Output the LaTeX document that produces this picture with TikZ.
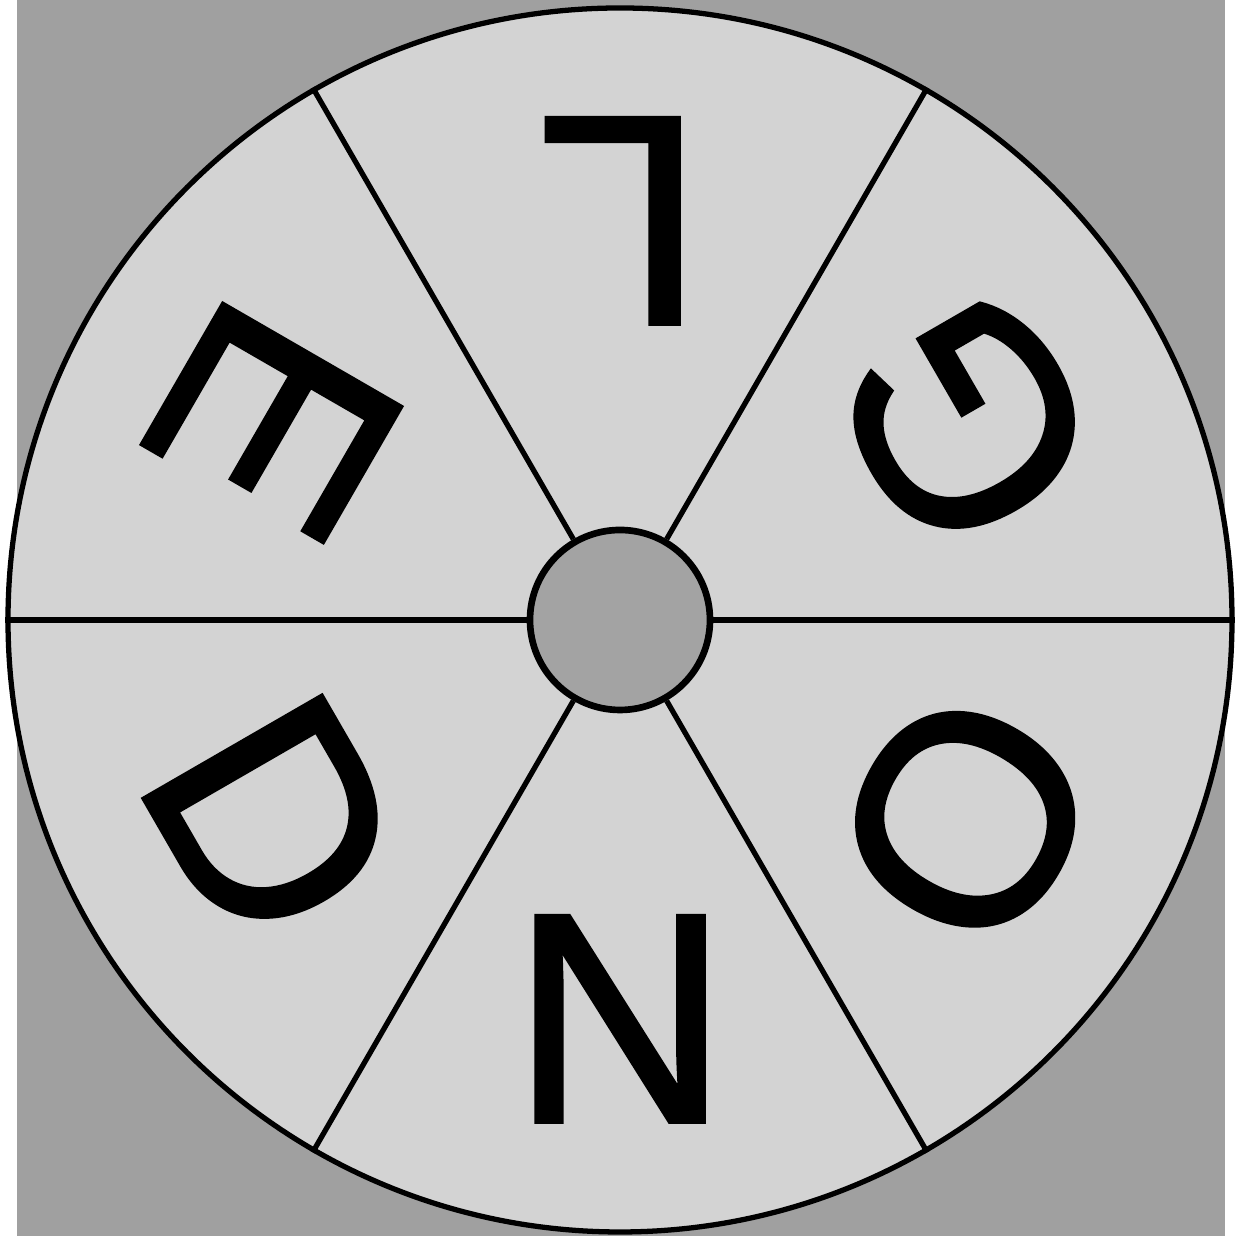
\documentclass[tikz,border=0pt]{standalone}
\usepackage{fontspec}
\setmainfont{Liberation Sans}
\newfontfamily\wheelfont{Liberation Sans}[FakeBold=1.5]
\usetikzlibrary{calc}
\definecolor{spinbg}{RGB}{160,160,160}
\definecolor{spinfill}{RGB}{211,211,211}
\definecolor{hubfill}{RGB}{163,163,163}

\begin{document}
\begin{tikzpicture}[
        wheel/.style={draw, circle, line width=1.5pt, fill=spinfill,
                      minimum size=12.24cm, inner sep=0pt},
        hub/.style={draw, circle, line width=1.9pt, fill=hubfill,
                    minimum size=1.8cm, inner sep=0pt},
        spoke/.style={line width=1.5pt},
        letter/.style={font=\wheelfont\fontsize{85}{90}\selectfont, inner sep=0pt}
      ]
        \useasboundingbox (0,0) rectangle (12.43,12.36);
        \fill[spinbg] (0.17,0) rectangle (12.25,12.36);

        \coordinate (c) at (6.20,6.16);
        \node[wheel] (rim) at (c) {};
        \node[hub] (hub) at (c) {};

        \foreach \a in {0,60,...,300}
          \draw[spoke] (hub.\a) -- (rim.\a);

        \foreach \ch/\ang in {L/90, G/30, O/-30, N/-90, D/-150, E/150}
          \node[letter, rotate=\ang+90] (lt-\ch) at ([shift={(\ang:3.99)}]c) {\ch};
      \end{tikzpicture}
\end{document}
